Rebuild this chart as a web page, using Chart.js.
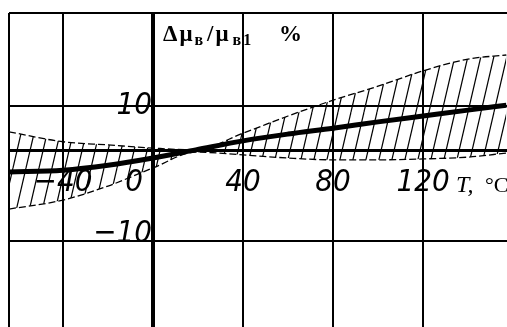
<!DOCTYPE html>
<html>
<head>
<meta charset="utf-8">
<script src="https://cdn.jsdelivr.net/npm/chart.js@4/dist/chart.umd.min.js"></script>
<style>
    html, body { margin: 0; padding: 0; background: #fff; }
    canvas { display: block; }
</style>
</head>
<body>
<canvas id="grafico" width="507" height="327"></canvas>
<script>
// Temperatura (°C) e desvio relativo (%)
const temperaturas = [-64, -40, -20, 0, 19, 40, 60, 80, 100, 120, 140, 157];
const desvioMedio = [-4.7, -4.3, -3.2, -1.6, 0.2, 2.2, 3.7, 5.0, 6.4, 7.7, 9.0, 10.1];
const limiteSuperior = [4.2, 2.0, 1.3, 0.6, 0.2, 3.9, 7.7, 11.2, 14.3, 17.7, 20.3, 21.2];
const limiteInferior = [-12.9, -10.9, -7.8, -3.8, -0.3, -0.9, -1.6, -2.0, -2.0, -1.8, -1.4, -0.5];

const gradeX = [-40, 0, 40, 80, 120];
const rotulosX = ['−40', '0', '40', '80', '120'];
const gradeY = [10, 0, -20];
const rotulosYValores = [10, -20];
const rotulosY = ['10', '−10'];

document.addEventListener('DOMContentLoaded', () => {
    const canvas = document.getElementById('grafico');
    const ctx = canvas.getContext('2d');

    const pontos = valores => temperaturas.map((t, i) => ({ x: t, y: valores[i] }));

    // hachura inclinada entre os limites
    function criarHachura() {
        const p = document.createElement('canvas');
        p.width = 13;
        p.height = 56;
        const c = p.getContext('2d');
        c.strokeStyle = '#000';
        c.lineWidth = 1.2;
        [-13, 0, 13].forEach(dx => {
            c.beginPath();
            c.moveTo(dx, 56);
            c.lineTo(dx + 13, 0);
            c.stroke();
        });
        return ctx.createPattern(p, 'repeat');
    }

    const textos = {
        id: 'textos',
        afterDraw(chart) {
            const c = chart.ctx;
            const sx = chart.scales.x;
            const sy = chart.scales.y;
            const x0 = sx.getPixelForValue(0);
            const y0 = sy.getPixelForValue(0);
            c.save();
            c.fillStyle = '#000';
            c.textBaseline = 'alphabetic';

            c.font = "italic 31px 'Liberation Sans Narrow', 'DejaVu Sans Condensed', sans-serif";
            gradeX.forEach((v, i) => {
                const px = sx.getPixelForValue(v);
                if (v === 0) {
                    c.textAlign = 'right';
                    c.fillText(rotulosX[i], px - 10, y0 + 40);
                } else {
                    c.textAlign = 'center';
                    c.fillText(rotulosX[i], px, y0 + 40);
                }
            });

            c.textAlign = 'right';
            rotulosYValores.forEach((v, i) => {
                const py = sy.getPixelForValue(v);
                c.fillText(rotulosY[i], x0 - 1, v > 0 ? py + 8 : py + 1);
            });

            // T, °C
            c.textAlign = 'left';
            c.font = "italic 24px 'Liberation Serif', serif";
            c.fillText('T,', 456, 192);
            c.font = "22px 'Liberation Serif', serif";
            c.fillText('°C', 485, 192);

            // titulo do eixo Y
            c.letterSpacing = '2px';
            let x = 163;
            const partes = [
                ['Δμ', 23, 41, 0],
                ['в', 16, 45, 2],
                ['/μ', 23, 41, 2],
                ['в1', 16, 45, 0]
            ];
            partes.forEach(([t, tam, base, gap]) => {
                c.font = `bold ${tam}px 'Liberation Serif', serif`;
                c.fillText(t, x, base);
                x += c.measureText(t).width + gap;
            });
            c.font = "bold 23px 'Liberation Serif', serif";
            c.fillText('%', 279, 41);
            c.restore();
        }
    };

    new Chart(ctx, {
        type: 'line',
        data: {
            datasets: [
                {
                    label: 'superior',
                    data: pontos(limiteSuperior),
                    borderColor: '#000',
                    borderWidth: 1.3,
                    borderDash: [7, 3],
                    pointRadius: 0,
                    cubicInterpolationMode: 'monotone',
                    backgroundColor: criarHachura(),
                    fill: '+1'
                },
                {
                    label: 'inferior',
                    data: pontos(limiteInferior),
                    borderColor: '#000',
                    borderWidth: 1.3,
                    borderDash: [7, 3],
                    pointRadius: 0,
                    cubicInterpolationMode: 'monotone',
                    fill: false
                },
                {
                    label: 'medio',
                    data: pontos(desvioMedio),
                    borderColor: '#000',
                    borderWidth: 5,
                    pointRadius: 0,
                    cubicInterpolationMode: 'monotone',
                    fill: false
                }
            ]
        },
        options: {
            responsive: false,
            animation: false,
            layout: { padding: { left: 9, top: 13, right: 0, bottom: 0 } },
            plugins: {
                legend: { display: false },
                tooltip: { enabled: false }
            },
            scales: {
                x: {
                    type: 'linear',
                    min: -64,
                    max: 157.3,
                    afterBuildTicks: s => { s.ticks = [-64, ...gradeX].map(v => ({ value: v })); },
                    ticks: { display: false },
                    border: { display: false },
                    grid: {
                        color: '#000',
                        drawTicks: false,
                        lineWidth: c => c.tick && c.tick.value === 0 ? 4 : 2
                    }
                },
                y: {
                    type: 'linear',
                    min: -39,
                    max: 30.5,
                    afterBuildTicks: s => { s.ticks = [30.5, ...gradeY].map(v => ({ value: v })); },
                    ticks: { display: false },
                    border: { display: false },
                    grid: {
                        color: '#000',
                        drawTicks: false,
                        lineWidth: c => c.tick && c.tick.value === 0 ? 3 : 2
                    }
                }
            }
        },
        plugins: [textos]
    });
});
</script>
</body>
</html>
